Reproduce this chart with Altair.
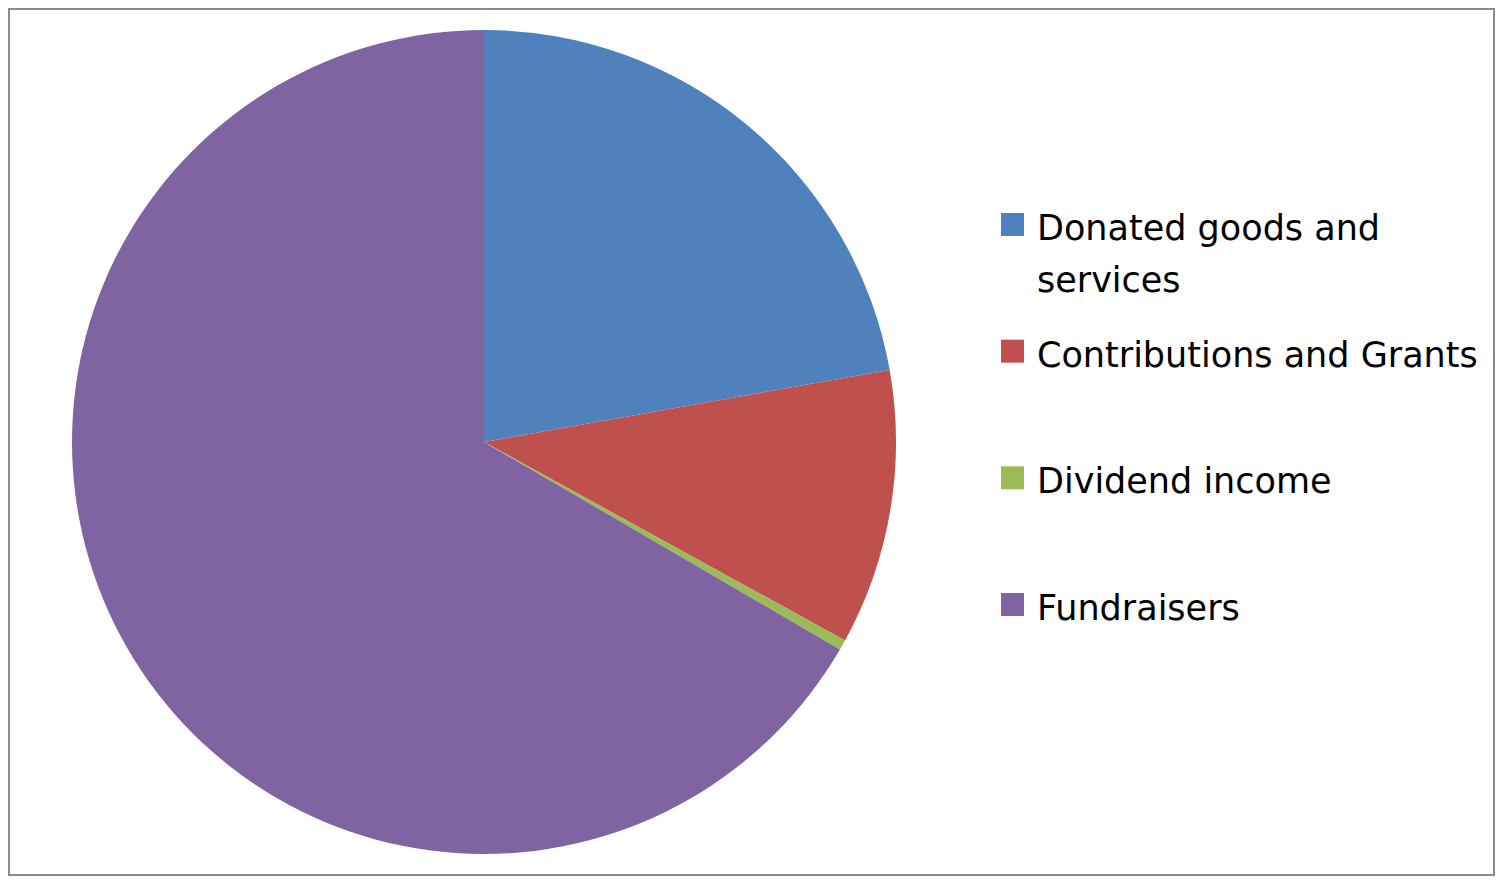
import altair as alt
import pandas as pd

categories = ["Donated goods and services", "Contributions and Grants", "Dividend income", "Fundraisers"]
values = [22.2, 10.8, 0.4, 66.6]
legend_labels = [["Donated goods and", "services"], ["Contributions and Grants"], ["Dividend income"], ["Fundraisers"]]
colors = ["#4F81BD", "#C0504D", "#9BBB59", "#8064A2"]

W, H = 1487, 868

df = pd.DataFrame({
    "category": categories,
    "value": values,
    "idx": list(range(len(categories))),
    "label": legend_labels,
})

color = alt.Color("category:N", scale=alt.Scale(domain=categories, range=colors), legend=None)
ypos = alt.Y("category:N", scale=alt.Scale(type="point", domain=categories, range=[216.5, 596.5], padding=0), axis=None)

border = alt.Chart(pd.DataFrame({"b": [0]})).mark_rect(
    fill="white", stroke="#8c8c8c", strokeWidth=2
).encode(
    x=alt.value(1), x2=alt.value(W - 1), y=alt.value(1), y2=alt.value(H - 1)
)

pie = alt.Chart(df).mark_arc(radius=412, stroke=None).encode(
    theta=alt.Theta("value:Q", stack=True),
    order=alt.Order("idx:Q", sort="ascending"),
    color=color,
    x=alt.value(476),
    y=alt.value(434),
)

squares = alt.Chart(df).mark_square(size=529, opacity=1, filled=True).encode(
    x=alt.value(1004.5),
    y=ypos,
    color=color,
)

texts = alt.Chart(df).mark_text(
    align="left", baseline="alphabetic", dy=15.5, font="DejaVu Sans",
    fontSize=35, lineHeight=52, color="black",
).encode(
    x=alt.value(1029),
    y=ypos,
    text="label",
)

chart = alt.layer(border, pie, squares, texts).properties(
    width=W, height=H,
    autosize=alt.AutoSizeParams(type="none"),
    padding=0,
).configure_view(stroke=None).configure(background="white")

chart.save("out.html", embed_options={"renderer": "svg", "actions": False})
